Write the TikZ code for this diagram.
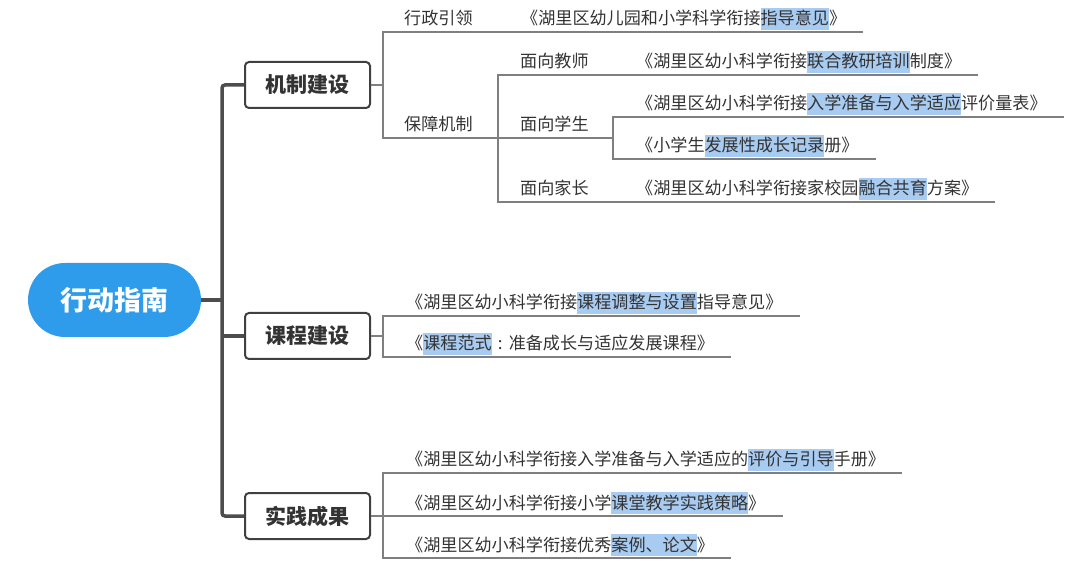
\documentclass[tikz,border=0pt]{standalone}
\usepackage{fontspec}
\setmainfont{Noto Sans CJK SC}
\usetikzlibrary{calc}
\definecolor{rootblue}{HTML}{2F9BEB}
\definecolor{trunkc}{HTML}{4D4D4D}
\definecolor{boxc}{HTML}{404040}
\definecolor{linec}{HTML}{7F7F7F}
\definecolor{txtc}{HTML}{333333}
\definecolor{hlc}{HTML}{A8CBF1}
\newcommand\hl[1]{{\setlength\fboxsep{0pt}\colorbox{hlc}{\rule[-5pt]{0pt}{22pt}#1}}}
\begin{document}
\begin{tikzpicture}[x=1pt,y=-1pt,
  rootnode/.style={rectangle, rounded corners=37pt, fill=rootblue, text=white, minimum width=173pt, minimum height=74pt, inner sep=0pt, font=\fontsize{27}{30}\selectfont\bfseries},
  mainbox/.style={rectangle, rounded corners=4pt, draw=boxc, line width=2pt, fill=white, minimum width=125pt, minimum height=46pt, inner sep=0pt, text=txtc, font=\fontsize{21}{24}\selectfont\bfseries},
  leaf/.style={anchor=base west, inner sep=0pt, text=txtc, font=\fontsize{17.1}{20}\selectfont},
  trunk/.style={draw=trunkc, line width=3.5pt, rounded corners=3pt},
  branch/.style={draw=linec, line width=1.6pt},
]
\useasboundingbox (0,0) rectangle (1080,569);

% main nodes
\node[rootnode] (root) at (114.5,300) {行动指南};
\node[mainbox] (jz) at (307.5,85) {机制建设};
\node[mainbox] (kc) at (307.5,336) {课程建设};
\node[mainbox] (sj) at (307.5,516) {实践成果};

% leaf texts
\node[leaf] (l1) at (404,25) {行政引领};
\node[leaf] (d1) at (521,25) {《湖里区幼儿园和小学科学衔接\hl{指导意见}》};
\node[leaf] (l2) at (404,131) {保障机制};
\node[leaf] (l3) at (520,68) {面向教师};
\node[leaf] (d2) at (636,68) {《湖里区幼小科学衔接\hl{联合教研培训}制度》};
\node[leaf] (l4) at (520,131) {面向学生};
\node[leaf] (d3) at (636,110) {《湖里区幼小科学衔接\hl{入学准备与入学适应}评价量表》};
\node[leaf] (d4) at (636,152) {《小学生\hl{发展性成长记录}册》};
\node[leaf] (l5) at (520,195) {面向家长};
\node[leaf] (d5) at (636,195) {《湖里区幼小科学衔接家校园\hl{融合共育}方案》};
\node[leaf] (k1) at (406,309) {《湖里区幼小科学衔接\hl{课程调整与设置}指导意见》};
\node[leaf] (k2) at (406,350) {《\hl{课程范式}\makebox[1em][c]{:}准备成长与适应发展课程》};
\node[leaf] (s1) at (406,466) {《湖里区幼小科学衔接入学准备与入学适应的\hl{评价与引导}手册》};
\node[leaf] (s2) at (406,509) {《湖里区幼小科学衔接小学\hl{课堂教学实践策略}》};
\node[leaf] (s3) at (406,551) {《湖里区幼小科学衔接优秀\hl{案例、论文}》};

% junction coordinates
\coordinate (t0) at (222,300);
\coordinate (t1) at (222,85);
\coordinate (t2) at (222,336);
\coordinate (t3) at (222,516);
\coordinate (b1) at (383,85);
\coordinate (b2) at (498,138);
\coordinate (b3) at (613,138);
\coordinate (b4) at (383,336);
\coordinate (b5) at (383,516);
\foreach \n in {d1,d2,d3,d4,d5,k1,k2,s1,s2,s3}
  \coordinate (e\n) at ($(\n.base east)+(17,7)$);

% trunk
\draw[trunk] (jz.west) -- (t1) -- (t3) -- (sj.west);
\draw[trunk] (root.east) -- (t0);
\draw[trunk] (t2) -- (kc.west);

% branches
\draw[branch] (jz.east) -- (b1);
\draw[branch] (b1) |- (ed1);
\draw[branch] (b1) |- (b2);
\draw[branch] (b2) |- (ed2);
\draw[branch] (b2) -- (b3);
\draw[branch] (b3) |- (ed3);
\draw[branch] (b3) |- (ed4);
\draw[branch] (b2) |- (ed5);
\draw[branch] (kc.east) -- (b4);
\draw[branch] (b4) |- (ek1);
\draw[branch] (b4) |- (ek2);
\draw[branch] (sj.east) -- (b5);
\draw[branch] (b5) |- (es1);
\draw[branch] (b5) -- (es2);
\draw[branch] (b5) |- (es3);
\end{tikzpicture}
\end{document}
